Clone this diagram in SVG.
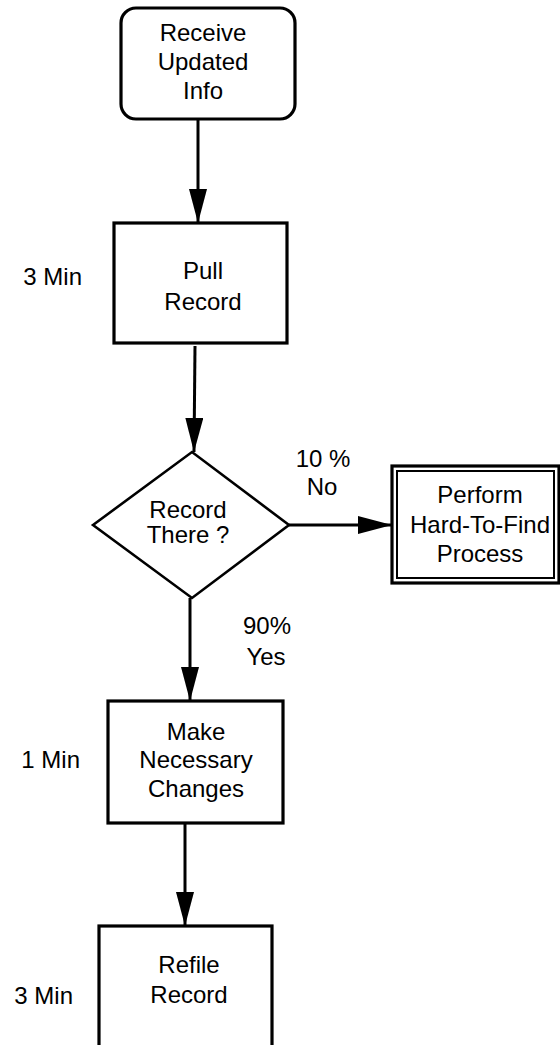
<svg xmlns="http://www.w3.org/2000/svg" width="560" height="1045" viewBox="0 0 560 1045">
<style>
text{font-family:"Liberation Sans",Arial,Helvetica,sans-serif;font-size:24px;fill:#000}
.c{text-anchor:middle}
.e{text-anchor:end}
.box{fill:#fff;stroke:#000;stroke-width:3.2}
.thin{fill:none;stroke:#000;stroke-width:2}
.ln{stroke:#000;stroke-width:3;fill:none}
</style>
<defs>
<marker id="ah" markerUnits="userSpaceOnUse" markerWidth="36" markerHeight="20" refX="34" refY="9" orient="auto" viewBox="0 0 36 20">
<path d="M0,0 L34,9 L0,18 Z" fill="#000"/>
</marker>
</defs>
<rect width="560" height="1045" fill="#fff"/>
<g id="connectors">
<line class="ln" x1="198" y1="119" x2="198" y2="223" marker-end="url(#ah)"/>
<line class="ln" x1="195" y1="346" x2="194" y2="452" marker-end="url(#ah)"/>
<line class="ln" x1="289" y1="525" x2="392" y2="525" marker-end="url(#ah)"/>
<line class="ln" x1="190" y1="598" x2="190" y2="701" marker-end="url(#ah)"/>
<line class="ln" x1="185" y1="823" x2="185" y2="926" marker-end="url(#ah)"/>
<text class="c" x="323" y="467">10 %</text>
<text class="c" x="322" y="495">No</text>
<text class="c" x="267" y="634">90%</text>
<text class="c" x="266" y="665">Yes</text>
</g>
<g id="n-receive">
<rect class="box" x="121" y="8" width="174" height="111" rx="15"/>
<text class="c" x="203" y="41">Receive</text>
<text class="c" x="203" y="70">Updated</text>
<text class="c" x="203" y="99">Info</text>
</g>
<g id="n-pull">
<rect class="box" x="114" y="223" width="173" height="120"/>
<text class="c" x="203" y="279">Pull</text>
<text class="c" x="203" y="310">Record</text>
<text class="e" x="82" y="285">3 Min</text>
</g>
<g id="n-decision">
<polygon class="box" style="stroke-width:2.6" points="93,525 192,452 289,525 192,598"/>
<text class="c" x="188" y="518">Record</text>
<text class="c" x="188" y="543">There ?</text>
</g>
<g id="n-hard">
<rect class="box" x="392" y="466" width="167" height="117"/>
<rect class="thin" x="397" y="471" width="157" height="107"/>
<text class="c" x="480" y="503">Perform</text>
<text class="c" x="480" y="533">Hard-To-Find</text>
<text class="c" x="480" y="562">Process</text>
</g>
<g id="n-make">
<rect class="box" x="108" y="701" width="175" height="122"/>
<text class="c" x="196" y="740">Make</text>
<text class="c" x="196" y="768">Necessary</text>
<text class="c" x="196" y="797">Changes</text>
<text class="e" x="80" y="768">1 Min</text>
</g>
<g id="n-refile">
<rect class="box" x="99" y="926" width="173" height="130"/>
<text class="c" x="189" y="973">Refile</text>
<text class="c" x="189" y="1003">Record</text>
<text class="e" x="73" y="1004">3 Min</text>
</g>
</svg>
